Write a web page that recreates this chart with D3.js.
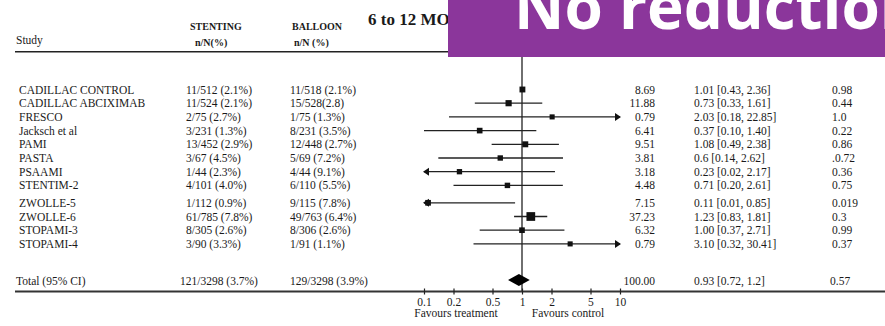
<!DOCTYPE html>
<html>
<head>
<meta charset="utf-8">
<script src="https://cdn.jsdelivr.net/npm/d3@7"></script>
<style>
  body { margin: 0; background: #fff; }
  svg text { font-family: "Liberation Serif", "Times New Roman", serif; fill: #1a1a1a; }
</style>
</head>
<body>
<div id="chart"></div>
<script>
// study rows
var studies = ["CADILLAC CONTROL", "CADILLAC ABCIXIMAB", "FRESCO", "Jacksch et al", "PAMI", "PASTA",
  "PSAAMI", "STENTIM-2", "ZWOLLE-5", "ZWOLLE-6", "STOPAMI-3", "STOPAMI-4"]
var stenting = ["11/512 (2.1%)", "11/524 (2.1%)", "2/75 (2.7%)", "3/231 (1.3%)", "13/452 (2.9%)", "3/67 (4.5%)",
  "1/44 (2.3%)", "4/101 (4.0%)", "1/112 (0.9%)", "61/785 (7.8%)", "8/305 (2.6%)", "3/90 (3.3%)"]
var balloon = ["11/518 (2.1%)", "15/528(2.8)", "1/75 (1.3%)", "8/231 (3.5%)", "12/448 (2.7%)", "5/69 (7.2%)",
  "4/44 (9.1%)", "6/110 (5.5%)", "9/115 (7.8%)", "49/763 (6.4%)", "8/306 (2.6%)", "1/91 (1.1%)"]
var weights = ["8.69", "11.88", "0.79", "6.41", "9.51", "3.81", "3.18", "4.48", "7.15", "37.23", "6.32", "0.79"]
var orText = ["1.01 [0.43, 2.36]", "0.73 [0.33, 1.61]", "2.03 [0.18, 22.85]", "0.37 [0.10, 1.40]",
  "1.08 [0.49, 2.38]", "0.6 [0.14, 2.62]", "0.23 [0.02, 2.17]", "0.71 [0.20, 2.61]",
  "0.11 [0.01, 0.85]", "1.23 [0.83, 1.81]", "1.00 [0.37, 2.71]", "3.10 [0.32, 30.41]"]
var pvals = ["0.98", "0.44", "1.0", "0.22", "0.86", ".0.72", "0.36", "0.75", "0.019", "0.3", "0.99", "0.37"]
// CI bar of the first study is not drawn in the source figure
var ciDrawn = [false, true, true, true, true, true, true, true, true, true, true, true]

// total row
var total = { label: "Total (95% CI)", stenting: "121/3298 (3.7%)", balloon: "129/3298 (3.9%)",
  weight: "100.00", or: "0.93 [0.72, 1.2]", p: "0.57" }

var ticks = [0.1, 0.2, 0.5, 1, 2, 5, 10]

var W = 885, H = 326
var fs = "11.5px"

var svg = d3.select("#chart").append("svg")
  .attr("width", W).attr("height", H)

// parse "or [lo, hi]"
function parseOR(s) {
  var m = s.match(/[\d.]+/g).map(Number)
  return { or: m[0], lo: m[1], hi: m[2] }
}

var rows = studies.map(function (s, i) {
  var o = parseOR(orText[i])
  return { i: i, study: s, st: stenting[i], ba: balloon[i], w: +weights[i], wText: weights[i],
    orText: orText[i], p: pvals[i], or: o.or, lo: o.lo, hi: o.hi, ci: ciDrawn[i] }
})

// x: log scale of odds ratio
var x = d3.scaleLog().domain([0.1, 10]).range([424, 620])
var xMin = 0.1, xMax = 10

// y: one row per study, small extra gap before ZWOLLE-5
var yIdx = d3.scaleLinear().domain([0, 11]).range([89.5, 240.2])
function rowY(i) { return yIdx(i) + (i >= 8 ? 3.7 : 0) }
var yTotal = 280
var yAxis = 291.5

var size = d3.scaleLinear().domain([0, 40]).range([5, 9])

// header
svg.append("text").attr("x", 16).attr("y", 44).style("font-size", fs).text("Study")
svg.append("text").attr("x", 190).attr("y", 30).style("font-size", "10px").style("font-weight", "bold").text("STENTING")
svg.append("text").attr("x", 195).attr("y", 46).style("font-size", "10px").style("font-weight", "bold").text("n/N(%)")
svg.append("text").attr("x", 292).attr("y", 30).style("font-size", "10px").style("font-weight", "bold").text("BALLOON")
svg.append("text").attr("x", 294).attr("y", 46).style("font-size", "10px").style("font-weight", "bold").text("n/N (%)")
svg.append("text").attr("x", 368).attr("y", 25).style("font-size", "17px").style("font-weight", "bold").text("6 to 12 MONTHS")

svg.append("line").attr("x1", 15).attr("x2", W).attr("y1", 51.7).attr("y2", 51.7)
  .style("stroke", "#222").style("stroke-width", 1.6)

// line of no effect
svg.append("line").attr("x1", x(1)).attr("x2", x(1)).attr("y1", 52).attr("y2", yAxis)
  .style("stroke", "#333").style("stroke-width", 1.4)

// text columns
var g = svg.selectAll(".row").data(rows).enter().append("g").attr("class", "row")
g.append("text").attr("x", 19).attr("y", function (d) { return rowY(d.i) + 4 })
  .style("font-size", fs).text(function (d) { return d.study })
g.append("text").attr("x", 186).attr("y", function (d) { return rowY(d.i) + 4 })
  .style("font-size", fs).text(function (d) { return d.st })
g.append("text").attr("x", 290).attr("y", function (d) { return rowY(d.i) + 4 })
  .style("font-size", fs).text(function (d) { return d.ba })
g.append("text").attr("x", 655).attr("y", function (d) { return rowY(d.i) + 4 })
  .style("font-size", fs).style("text-anchor", "end").text(function (d) { return d.wText })
g.append("text").attr("x", 694).attr("y", function (d) { return rowY(d.i) + 4 })
  .style("font-size", fs).text(function (d) { return d.orText })
g.append("text").attr("x", 832).attr("y", function (d) { return rowY(d.i) + 4 })
  .style("font-size", fs).text(function (d) { return d.p })

// CI lines
g.filter(function (d) { return d.ci }).append("line")
  .attr("x1", function (d) { return x(Math.max(d.lo, xMin)) })
  .attr("x2", function (d) { return x(Math.min(d.hi, xMax)) })
  .attr("y1", function (d) { return rowY(d.i) })
  .attr("y2", function (d) { return rowY(d.i) })
  .style("stroke", "#222").style("stroke-width", 1.3)

// arrows where CI runs off the scale
g.filter(function (d) { return d.ci && d.hi > xMax }).append("path")
  .attr("d", function (d) {
    var px = x(xMax), py = rowY(d.i)
    return "M" + (px - 5) + "," + (py - 4) + "L" + (px + 1) + "," + py + "L" + (px - 5) + "," + (py + 4) + "Z"
  }).style("fill", "#111")
g.filter(function (d) { return d.ci && d.lo < xMin }).append("path")
  .attr("d", function (d) {
    var px = x(xMin), py = rowY(d.i)
    return "M" + (px + 5) + "," + (py - 4) + "L" + (px - 1) + "," + py + "L" + (px + 5) + "," + (py + 4) + "Z"
  }).style("fill", "#111")

// point estimates
g.append("rect")
  .attr("x", function (d) { return x(d.or) - size(d.w) / 2 })
  .attr("y", function (d) { return rowY(d.i) - size(d.w) / 2 })
  .attr("width", function (d) { return size(d.w) })
  .attr("height", function (d) { return size(d.w) })
  .style("fill", "#111")

// total row
var tot = parseOR(total.or)
svg.append("text").attr("x", 16).attr("y", yTotal + 5).style("font-size", fs).text(total.label)
svg.append("text").attr("x", 180).attr("y", yTotal + 5).style("font-size", fs).text(total.stenting)
svg.append("text").attr("x", 290).attr("y", yTotal + 5).style("font-size", fs).text(total.balloon)
svg.append("text").attr("x", 655).attr("y", yTotal + 5).style("font-size", fs).style("text-anchor", "end").text(total.weight)
svg.append("text").attr("x", 694).attr("y", yTotal + 5).style("font-size", fs).text(total.or)
svg.append("text").attr("x", 830).attr("y", yTotal + 5).style("font-size", fs).text(total.p)

svg.append("path")
  .attr("d", "M" + x(tot.lo) + "," + yTotal + "L" + x(tot.or) + "," + (yTotal - 6) +
    "L" + x(tot.hi) + "," + yTotal + "L" + x(tot.or) + "," + (yTotal + 6) + "Z")
  .style("fill", "#000")

// bottom rule / axis
svg.append("line").attr("x1", 15).attr("x2", W).attr("y1", yAxis).attr("y2", yAxis)
  .style("stroke", "#333").style("stroke-width", 2)

var axis = svg.append("g").attr("transform", "translate(0," + yAxis + ")")
  .call(d3.axisBottom(x).tickValues(ticks).tickSize(3).tickFormat(d3.format("")))
axis.select(".domain").remove()
axis.selectAll(".tick line").attr("y1", -3).style("stroke", "#222").style("stroke-width", 1.2)
axis.selectAll(".tick text").attr("y", 6).style("font-size", "11.5px")
  .style("font-family", "Liberation Serif, serif").style("fill", "#1a1a1a")

svg.append("text").attr("x", 456).attr("y", 317).style("font-size", "11.5px").style("text-anchor", "middle").text("Favours treatment")
svg.append("text").attr("x", 568).attr("y", 317).style("font-size", "11.5px").style("text-anchor", "middle").text("Favours control")

// banner (title runs off the right edge, as in the source slide)
svg.append("rect").attr("x", 448).attr("y", 0).attr("width", W - 448).attr("height", 57).style("fill", "#8b369b")
svg.append("text").attr("x", 514).attr("y", 29)
  .style("font-family", "'Open Sans', sans-serif").style("font-weight", "bold").style("font-size", "62px")
  .style("fill", "#fff").text("No reduction")
</script>
</body>
</html>
